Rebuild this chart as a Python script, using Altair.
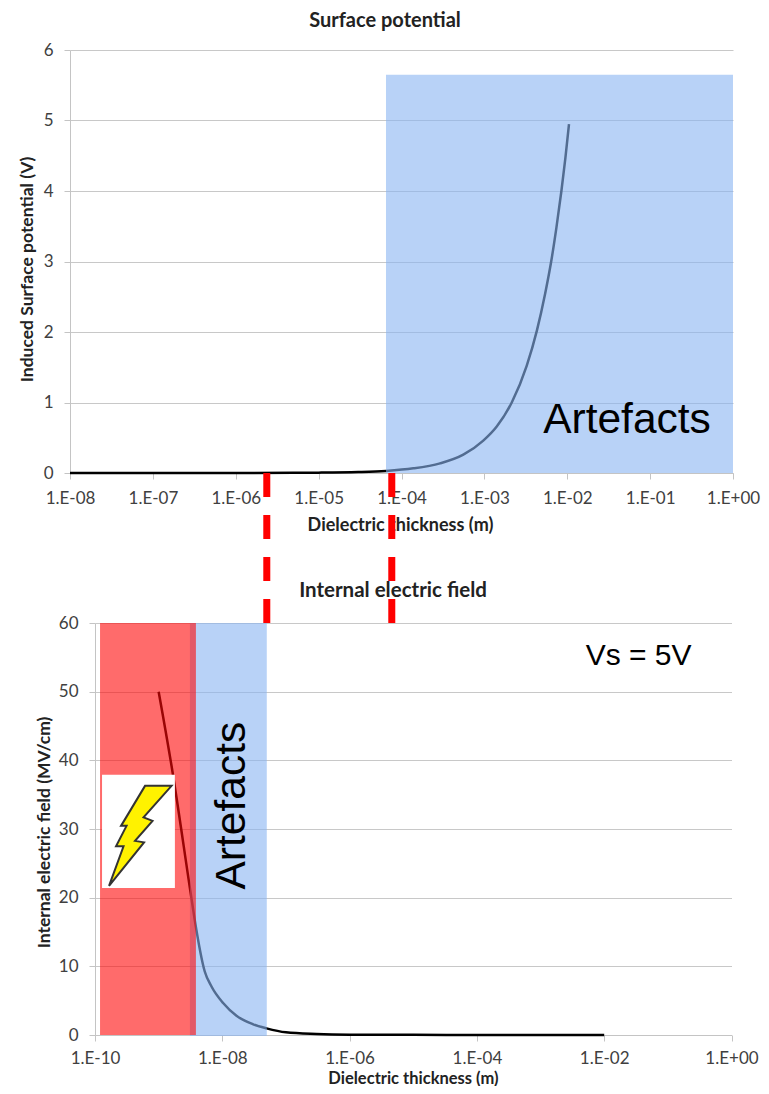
import altair as alt
import pandas as pd

# Surface potential curve
top_x = [1e-8, 1e-7, 1e-6, 5e-6, 1e-5, 3e-5, 6.5e-5, 1.39e-4, 2.92e-4, 5.57e-4, 9.7e-4, 1.41e-3, 2.14e-3,
         3.24e-3, 4.3e-3, 5.4e-3, 6.4e-3, 7.4e-3, 8.5e-3, 9.5e-3, 1.05e-2]
top_y = [0.0, 0.0, 0.001, 0.003, 0.005, 0.014, 0.03, 0.066, 0.137, 0.26, 0.46, 0.66, 1.0,
         1.52, 2.02, 2.54, 3.0, 3.48, 4.0, 4.47, 4.95]
# Internal electric field curve
bot_x = [1e-9, 1.6e-9, 3.3e-9, 3.7e-9, 5.3e-9, 6.8e-9, 1.03e-8, 1.67e-8, 3.05e-8, 4.95e-8, 1e-7, 3e-7,
         1e-6, 1e-5, 1e-4, 1e-3, 1e-2]
bot_y = [50.0, 39.1, 19.7, 16.7, 9.25, 7.03, 4.66, 2.81, 1.56, 0.97, 0.39, 0.15, 0.05, 0.02, 0.005, 0.001, 0.0]

top_ticks = [1e-8, 1e-7, 1e-6, 1e-5, 1e-4, 1e-3, 1e-2, 1e-1, 1.0]
bot_ticks = [1e-10, 1e-8, 1e-6, 1e-4, 1e-2, 1.0]
dash_x = [5e-8, 4.6e-6]

FONT = "Lato"
TXT = "#404040"
AXC = "#c4c4c4"
LABEL = ("'1.E' + (datum.value >= 1 ? '+00' : '-' + "
         "(round(-log(datum.value)/LN10) < 10 ? '0' : '') + round(-log(datum.value)/LN10))")

W, H = 753, 1078
T_L, T_R, T_B, T_T = 62, 725, 465, 42
B_L, B_R, B_B, B_T = 87, 723.5, 1027, 615


def axes(values, ytitle, xt, yt, left, bottom, ydom_step, ymax, xtitle_size, xpad):
    xa = alt.Axis(values=values, labelExpr=LABEL, orient="bottom", offset=bottom - H, title="Dielectric thickness (m)",
                  grid=False, domainColor=AXC, tickColor=AXC, tickSize=6, labelFont=FONT, labelFontSize=17,
                  labelColor=TXT, labelPadding=xpad, titleFont=FONT, titleFontSize=xtitle_size, titleFontWeight="bold",
                  titleColor="#222222", titleX=xt[0], titleY=xt[1], titleBaseline="middle", labelFlush=False,
                  labelOverlap=False)
    ya = alt.Axis(values=list(range(0, ymax + 1, ydom_step)), orient="left", offset=-left, title=ytitle, grid=True,
                  gridColor="#c8c8c8", domainColor=AXC, tickColor=AXC, tickSize=6, labelFont=FONT, labelFontSize=17,
                  labelColor=TXT, labelPadding=11, titleFont=FONT, titleFontSize=17.5, titleFontWeight="bold",
                  titleColor="#222222", titleX=yt[0], titleY=yt[1], titleBaseline="middle")
    return xa, ya


xs_t = alt.Scale(type="log", domain=[1e-8, 1], range=[T_L, T_R], nice=False)
ys_t = alt.Scale(type="linear", domain=[0, 6], range=[T_B, T_T], nice=False)
xs_b = alt.Scale(type="log", domain=[1e-10, 1], range=[B_L, B_R], nice=False)
ys_b = alt.Scale(type="linear", domain=[0, 60], range=[B_B, B_T], nice=False)

xa_t, ya_t = axes(top_ticks, "Induced Surface potential  (V)", (392, 52), (-43, 261), T_L, T_B, 1, 6, 18, 11)
xa_b, ya_b = axes(bot_ticks, "Internal electric field (MV/cm)", (405, 43), (-51, 824), B_L, B_B, 10, 60, 16.5, 9)


def X_T(f):
    return alt.X(f, scale=xs_t, axis=xa_t)


def Y_T(f):
    return alt.Y(f, scale=ys_t, axis=ya_t)


def X_B(f):
    return alt.X(f, scale=xs_b, axis=xa_b)


def Y_B(f):
    return alt.Y(f, scale=ys_b, axis=ya_b)


top_line = alt.Chart(pd.DataFrame({"x": top_x, "y": top_y})).mark_line(
    color="#000000", strokeWidth=2.5, interpolate="monotone"
).encode(x=X_T("x:Q"), y=Y_T("y:Q"))

top_rect = alt.Chart(pd.DataFrame({"a": [6.5e-5], "b": [1.0], "c": [0.0], "d": [5.65]})).mark_rect(
    color="#89b4f2", opacity=0.6
).encode(x=X_T("a:Q"), x2="b:Q", y=Y_T("c:Q"), y2="d:Q")

top_text = alt.Chart(pd.DataFrame({"x": [0.0526], "y": [0.75], "t": ["Artefacts"]})).mark_text(
    font="Liberation Sans", fontSize=42.5, color="#000000", align="center", baseline="middle"
).encode(x=X_T("x:Q"), y=Y_T("y:Q"), text="t:N")

top = alt.layer(top_line, top_rect, top_text)

bot_line = alt.Chart(pd.DataFrame({"x": bot_x, "y": bot_y})).mark_line(
    color="#000000", strokeWidth=2.5, interpolate="monotone"
).encode(x=X_B("x:Q"), y=Y_B("y:Q"))

blue_rect = alt.Chart(pd.DataFrame({"a": [3.1e-9], "b": [5e-8], "c": [-0.15], "d": [60.0]})).mark_rect(
    color="#89b4f2", opacity=0.6
).encode(x=X_B("a:Q"), x2="b:Q", y=Y_B("c:Q"), y2="d:Q")

red_rect = alt.Chart(pd.DataFrame({"a": [1.2e-10], "b": [3.85e-9], "c": [0.0], "d": [60.0]})).mark_rect(
    color="#ff0808", opacity=0.6
).encode(x=X_B("a:Q"), x2="b:Q", y=Y_B("c:Q"), y2="d:Q")

white_rect = alt.Chart(pd.DataFrame({"a": [1.29e-10], "b": [1.8e-9], "c": [21.4], "d": [37.9]})).mark_rect(
    color="#ffffff", opacity=1
).encode(x=X_B("a:Q"), x2="b:Q", y=Y_B("c:Q"), y2="d:Q")

BOLT = ("M0.10 -1.00 L0.63 -1.00 L0.07 -0.37 L0.25 -0.30 L-0.10 0.10 L0.08 0.13 "
        "L-0.62 1.00 L-0.33 0.21 L-0.48 0.21 L-0.27 -0.20 L-0.38 -0.20 Z")
bolt = alt.Chart(pd.DataFrame({"x": [5.1e-10], "y": [29.0]})).mark_point(
    shape=BOLT, filled=True, fill="#fff200", stroke="#333333", strokeWidth=2, size=10000, opacity=1
).encode(x=X_B("x:Q"), y=Y_B("y:Q"))

art = alt.Chart(pd.DataFrame({"x": [1.41e-8], "y": [33.4], "t": ["Artefacts"]})).mark_text(
    font="Liberation Sans", fontSize=42.5, color="#000000", angle=270, align="center", baseline="middle"
).encode(x=X_B("x:Q"), y=Y_B("y:Q"), text="t:N")

vs = alt.Chart(pd.DataFrame({"x": [0.0347], "y": [55.2], "t": ["Vs = 5V"]})).mark_text(
    font="Liberation Sans", fontSize=30, color="#000000", align="center", baseline="middle"
).encode(x=X_B("x:Q"), y=Y_B("y:Q"), text="t:N")

dashes = alt.Chart(pd.DataFrame({"x": dash_x, "y": [81.84, 81.84], "y2": [60.0, 60.0]})).mark_rule(
    color="#ff0000", strokeWidth=7, strokeDash=[24, 18]
).encode(x=X_B("x:Q"), y=Y_B("y:Q"), y2="y2:Q")

bottom = alt.layer(bot_line, blue_rect, red_rect, white_rect, bolt, art, vs, dashes)

t1 = alt.Chart(pd.DataFrame({"t": ["Surface potential"]})).mark_text(
    font=FONT, fontSize=20, fontWeight="bold", color="#222222", align="center", baseline="middle"
).encode(x=alt.value(377), y=alt.value(13), text="t:N")
t2 = alt.Chart(pd.DataFrame({"t": ["Internal electric field"]})).mark_text(
    font=FONT, fontSize=20.5, fontWeight="bold", color="#222222", align="center", baseline="middle"
).encode(x=alt.value(385), y=alt.value(583), text="t:N")

chart = alt.layer(top, bottom, t1, t2).resolve_scale(x="independent", y="independent").properties(
    width=W, height=H, padding=0, autosize=alt.AutoSizeParams(type="none")
).configure_view(stroke=None)

chart.save("out.html", embed_options={"renderer": "svg", "actions": False})
